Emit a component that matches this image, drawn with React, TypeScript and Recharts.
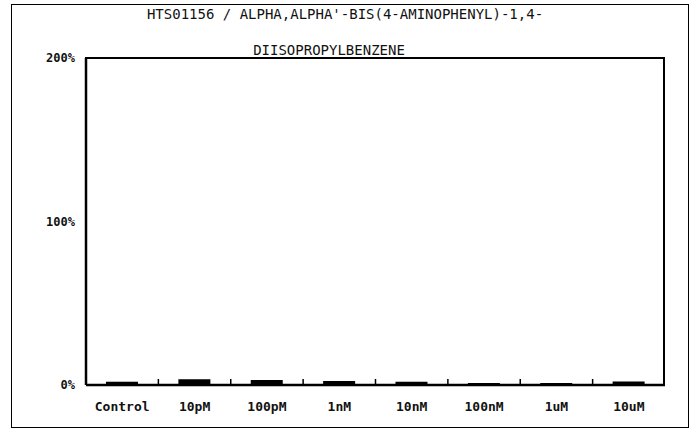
import { BarChart, Bar, XAxis, YAxis } from 'recharts';

const categories = ['Control', '10pM', '100pM', '1nM', '10nM', '100nM', '1uM', '10uM'];
const responses = [2, 3.5, 3, 2.5, 2, 1.2, 1.2, 2.2];
const yTicks = [0, 100, 200];
const titleLines = ["HTS01156 / ALPHA,ALPHA'-BIS(4-AMINOPHENYL)-1,4-", 'DIISOPROPYLBENZENE'];

const data = categories.map((name) => ({ name, value: responses[categories.indexOf(name)] }));

const mono = '"DejaVu Sans Mono", monospace';
const LABEL_GAP = 17;

// label under each category plus a short inward tick at the left boundary of the band
function CategoryTick(props: any) {
  const { x, y, payload, index, width } = props;
  const band = width / categories.length;
  const axisY = y - LABEL_GAP;
  return (
    <g>
      {index > 0 && (
        <line x1={x - band / 2} x2={x - band / 2} y1={axisY - 6} y2={axisY} stroke="#000" strokeWidth={1.5} />
      )}
      <text x={x} y={y} dy="0.71em" textAnchor="middle" fill="#111" fontFamily={mono} fontSize={13} fontWeight="bold">
        {payload.value}
      </text>
    </g>
  );
}

export default function App() {
  return (
    <div style={{ position: 'absolute', left: 0, top: 0, width: 690, height: 430, background: '#fff' }}>
      <div style={{ position: 'absolute', left: 11, top: 4, width: 676, height: 422, border: '1px solid #000' }} />
      <div style={{ position: 'absolute', left: 85, top: 57, width: 578, height: 327, border: '2px solid #000', borderBottom: 'none', borderLeft: 'none' }} />
      <div style={{ position: 'absolute', left: 0, top: 6, width: 690, textAlign: 'center', fontFamily: mono, fontSize: 14, lineHeight: '16px', color: '#111' }}>
        <div style={{ marginLeft: 0 }}>{titleLines[0]}</div>
        <div style={{ marginLeft: -32, marginTop: 20 }}>{titleLines[1]}</div>
      </div>
      <BarChart width={690} height={430} data={data} margin={{ top: 58, right: 25, bottom: 0, left: 0 }} barSize={32}
        style={{ position: 'absolute', left: 0, top: 0 }}>
        <XAxis dataKey="name" height={45} tickLine={false} tickSize={0} tickMargin={LABEL_GAP}
          axisLine={{ stroke: '#000', strokeWidth: 2.5 }} tick={<CategoryTick />} interval={0} />
        <YAxis domain={[0, 200]} ticks={yTicks} width={86} tickLine={false} tickMargin={5}
          tickFormatter={(v: number) => `${v}%`} axisLine={{ stroke: '#000', strokeWidth: 2.5 }}
          tick={{ fill: '#111', fontFamily: mono, fontSize: 12, fontWeight: 'bold' }} />
        <Bar dataKey="value" fill="#000" isAnimationActive={false} />
      </BarChart>
    </div>
  );
}
